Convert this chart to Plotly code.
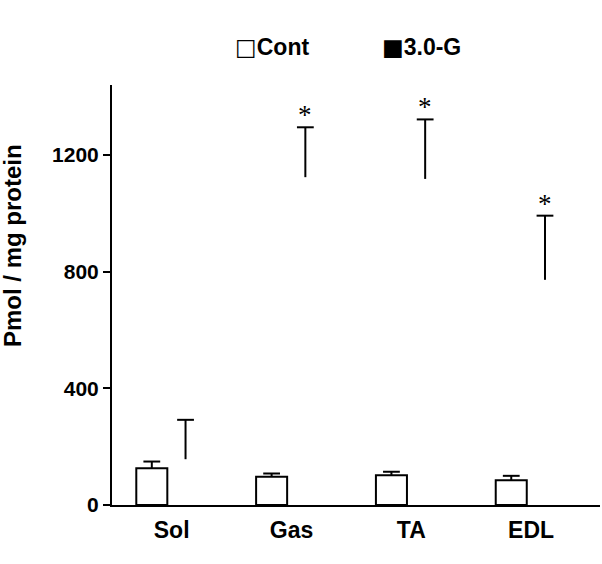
import plotly.graph_objects as go

categories = ["Sol", "Gas", "TA", "EDL"]
cont_values = [126, 97, 102, 85]
cont_errors = [23, 11, 12, 15]
g_values = [157, 1124, 1118, 772]
g_errors = [135, 171, 204, 220]
significance = ["", "*", "*", "*"]
y_ticks = [0, 400, 800, 1200]

FONT = "Liberation Sans, Arial, sans-serif"
W, H = 602, 564
ML, MR, MT, MB = 112, 2, 85, 59
plot_w = W - ML - MR

x_range = [-0.473, 3.6]
bargap = 0.437
bargroupgap = 0.08
units_px = plot_w / (x_range[1] - x_range[0])
slot = (1 - bargap) / 2
offset_px = slot / 2 * units_px

fig = go.Figure()
fig.add_trace(go.Bar(
    name="Cont", x=categories, y=cont_values, offsetgroup="cont",
    marker=dict(color="white", line=dict(color="black", width=2)),
    error_y=dict(type="data", array=cont_errors, arrayminus=[0] * len(cont_errors),
                 symmetric=False, color="black", thickness=2, width=0),
))
fig.add_trace(go.Bar(
    name="3.0-G", x=categories, y=g_values, offsetgroup="g",
    marker=dict(color="rgba(0,0,0,0)", line=dict(color="rgba(0,0,0,0)", width=0)),
    error_y=dict(type="data", array=g_errors, arrayminus=[0] * len(g_errors),
                 symmetric=False, color="black", thickness=2, width=0),
))
# error-bar caps (top end only)
fig.add_trace(go.Scatter(
    x=categories, y=[v + e for v, e in zip(cont_values, cont_errors)],
    mode="markers", offsetgroup="cont", hoverinfo="skip",
    marker=dict(symbol="line-ew", size=12, color="black", line=dict(color="black", width=2)),
))
fig.add_trace(go.Scatter(
    x=categories, y=[v + e for v, e in zip(g_values, g_errors)],
    mode="markers", offsetgroup="g", hoverinfo="skip",
    marker=dict(symbol="line-ew", size=12, color="black", line=dict(color="black", width=2)),
))

annotations = []
for c, v, e, s in zip(categories, g_values, g_errors, significance):
    if s:
        annotations.append(dict(
            x=c, y=v + e, xref="x", yref="y", text=s, showarrow=False,
            xanchor="center", yanchor="bottom", xshift=offset_px, yshift=-5,
            font=dict(family="Liberation Serif, Times New Roman, serif", size=27, color="black"),
        ))

annotations.append(dict(
    x=(12 - ML) / plot_w, y=(505 - 246) / 420, xref="paper", yref="paper",
    text="<b>Pmol / mg protein</b>", textangle=-90, showarrow=False,
    xanchor="center", yanchor="middle", font=dict(family=FONT, size=24, color="black"),
))
annotations.append(dict(
    x=(272 - ML) / plot_w, y=(505 - 46.7) / 420, xref="paper", yref="paper",
    text="<span style='font-family:DejaVu Sans'>□</span><b>Cont</b>", showarrow=False,
    xanchor="center", yanchor="middle",
    font=dict(family=FONT, size=23, color="black"),
))
annotations.append(dict(
    x=(421 - ML) / plot_w, y=(505 - 46.7) / 420, xref="paper", yref="paper",
    text="<span style='font-family:DejaVu Sans'>■</span><b>3.0-G</b>", showarrow=False,
    xanchor="center", yanchor="middle",
    font=dict(family=FONT, size=23, color="black"),
))

fig.update_layout(
    width=W, height=H,
    margin=dict(l=ML, r=MR, t=MT, b=MB),
    paper_bgcolor="white", plot_bgcolor="white",
    barmode="group", bargap=bargap, bargroupgap=bargroupgap,
    scattermode="group", scattergap=bargap,
    showlegend=False,
    annotations=annotations,
    xaxis=dict(
        range=x_range, showline=True, linecolor="black", linewidth=2,
        ticks="", showgrid=False, zeroline=False, ticklabelshift=3, ticklabelstandoff=3,
        tickfont=dict(family=FONT, size=23, color="black", weight="bold"),
    ),
    yaxis=dict(
        range=[0, 1440], tickvals=y_ticks, showline=True, linecolor="black", linewidth=2,
        ticks="outside", ticklen=7, tickwidth=1.5, tickcolor="black",
        showgrid=False, zeroline=False,
        tickfont=dict(family=FONT, size=21, color="black", weight="bold"),
    ),
)

fig.write_html("out.html")
